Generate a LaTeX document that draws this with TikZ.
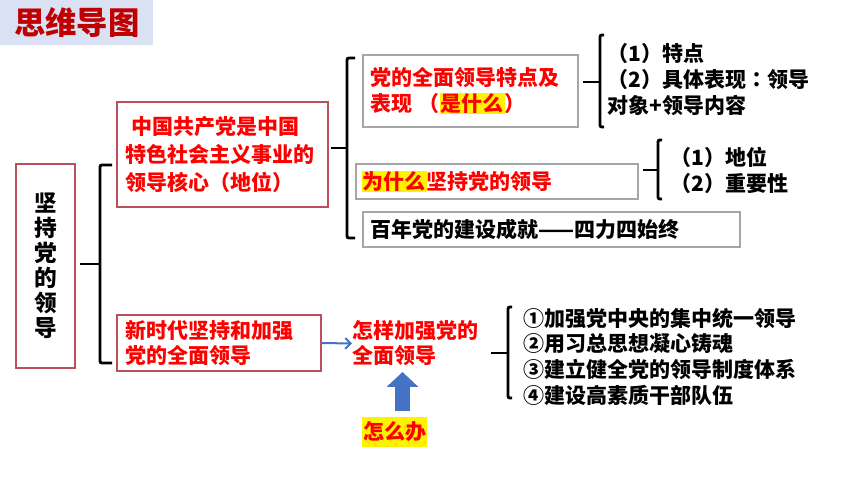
\documentclass[tikz,border=0pt]{standalone}
\usepackage{fontspec}
\setmainfont{Noto Sans CJK SC}[BoldFont={Noto Sans CJK SC Black}]
\newfontfamily\tcfont{Noto Sans CJK TC}[BoldFont={Noto Sans CJK TC Black}]
\usetikzlibrary{arrows.meta}
\definecolor{titlebg}{HTML}{D9E1F2}
\definecolor{titlered}{HTML}{C00000}
\definecolor{boxred}{HTML}{B9505A}
\definecolor{boxgray}{HTML}{A6A6A6}
\definecolor{arrowblue}{HTML}{4472C4}
\newcommand{\hlt}[1]{{\setlength{\fboxsep}{0.6pt}\colorbox{yellow}{#1}}}
\tikzset{
  redbox/.style={draw=boxred, line width=1.1pt, inner ysep=0pt, text=red, align=left},
  graybox/.style={draw=boxgray, line width=1.1pt, inner ysep=0pt, align=left},
  txt/.style={inner sep=0pt, align=left},
  brace/.style={line width=2.2pt, rounded corners=1.5pt},
}
\newcommand{\fs}[1]{\fontsize{15.75}{#1}\selectfont\bfseries}
\begin{document}
\begin{tikzpicture}[x=0.75pt,y=-0.75pt]
  \useasboundingbox (0,0) rectangle (860,484);
  % title
  \node[fill=titlebg, anchor=north west, minimum width=114.75pt, minimum height=33.75pt, inner sep=0pt,
        font=\fontsize{23.5}{23.5}\selectfont\bfseries, text=titlered] (title) at (0,0) {思维导图};
  % boxes
  \node[redbox, minimum width=44.25pt, minimum height=153pt, inner xsep=0pt, text width=44.25pt, align=center,
        text=black, font=\fontsize{17}{18.75}\selectfont\bfseries] (root) at (45.5,266)
        {坚\\持\\党\\的\\领\\导};
  \node[redbox, minimum height=78.75pt, inner xsep=6pt, text width=146.25pt, font=\fs{21}] (core) at (222.5,154.5)
        {\hspace{5pt}中国共产党是中国\\特色社会主义事业的\\领导核心（地位）};
  \node[graybox, minimum height=54pt, inner xsep=5.25pt, text width=150.75pt, text=red, font=\fs{19.5}] (what) at (470.5,91)
        {党的全面领导特点及\\表现 （\hlt{是什么}）};
  \node[graybox, minimum height=26.25pt, inner xsep=4.5pt, text width=202.5pt, text=red, font=\fs{19.5}] (why) at (497,181.5)
        {\hlt{为什么}坚持党的领导};
  \node[graybox, minimum height=26.25pt, inner xsep=5.25pt, text width=272.25pt, font=\fs{19.5}] (hundred) at (551.5,229.5)
        {百年党的建设成就——四力四始终};
  \node[redbox, minimum height=42pt, inner xsep=6pt, text width=141pt, font=\fs{18.75}] (era) at (219,343)
        {新时代坚持和加强\\党的全面领导};
  % plain texts
  \node[txt, anchor=west, text=red, font=\fs{18.75}] (how) at (352,343.5) {怎样加强党的\\全面领导};
  \node[fill=yellow, inner sep=0pt, minimum width=48.75pt, minimum height=22.5pt, text=red, font=\fs{18.75}] (todo) at (394.5,432) {怎么办};
  \node[txt, anchor=west, font=\fs{19.5}] (feat) at (607,79.5) {（1）特点\\（2）具体表现{\tcfont ：}领导\\对象+领导内容};
  \node[txt, anchor=west, font=\fs{19.5}] (reason) at (670,170) {（1）地位\\（2）重要性};
  \node[txt, anchor=west, font=\fs{19.25}] (ways) at (523,356.5)
        {①加强党中央的集中统一领导\\②用习总思想凝心铸魂\\③建立健全党的领导制度体系\\④建设高素质干部队伍};
  % bracket points
  \coordinate (b1-t) at (112,165); \coordinate (b1-m) at (100,264); \coordinate (b1-b) at (112,363);
  \coordinate (b2-t) at (355,58);  \coordinate (b2-m) at (347,148); \coordinate (b2-b) at (355,238);
  \coordinate (b3-t) at (604,35);  \coordinate (b3-m) at (600,82);  \coordinate (b3-b) at (604,127);
  \coordinate (b4-t) at (662,140); \coordinate (b4-m) at (658,170); \coordinate (b4-b) at (662,199);
  \coordinate (b5-t) at (512,307); \coordinate (b5-m) at (508,353); \coordinate (b5-b) at (512,398);
  \coordinate (uptip) at (402.5,372);
  \begin{scope}[brace]
    \foreach \b in {b1,b2,b3,b4,b5}
      \draw (\b-t) -| (\b-m) |- (\b-b);
    \draw[shorten <=3pt] (root.east |- b1-m) -- (b1-m);
    \draw[shorten <=1.5pt] (core.east |- b2-m) -- (b2-m);
    \draw[shorten <=3pt] (what.east |- b3-m) -- (b3-m);
    \draw[shorten <=3pt] (why.east |- b4-m) -- (b4-m);
    \draw[shorten <=9pt] (how.east |- b5-m) -- (b5-m);
  \end{scope}
  % arrows
  \draw[arrowblue, line width=1.5pt, -{Straight Barb[length=4pt,width=8pt]}] (era.east) -- (how.west);
  \draw[arrowblue, line width=11.25pt, -{Triangle[width=23.25pt,length=11.25pt]}]
    ([xshift=6pt,yshift=4.5pt]todo.north) -- (uptip);
\end{tikzpicture}
\end{document}
